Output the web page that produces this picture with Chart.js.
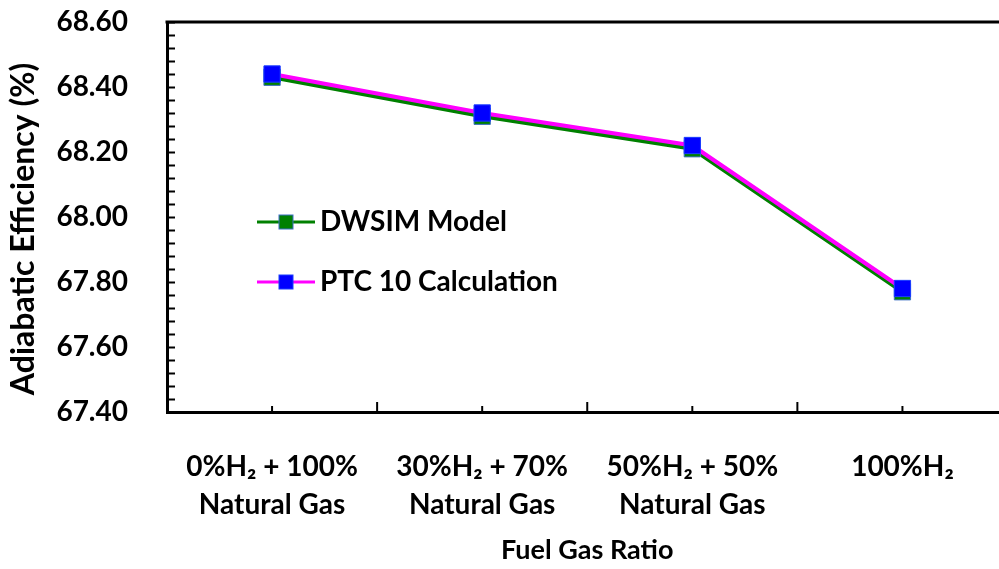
<!DOCTYPE html>
<html>
<head>
<meta charset="utf-8">
<script src="https://cdn.jsdelivr.net/npm/chart.js@4.4.0/dist/chart.umd.min.js"></script>
<style>
  html, body { margin: 0; padding: 0; background: #fff; overflow: hidden; }
  #wrap { width: 999px; height: 569px; overflow: hidden; }
  #chart { display: block; }
</style>
</head>
<body>
<div id="wrap"><canvas id="chart" width="1020" height="569"></canvas></div>
<script>
// Data
const categories = [
  ['0%H\u2082 + 100%', 'Natural Gas'],
  ['30%H\u2082 + 70%', 'Natural Gas'],
  ['50%H\u2082 + 50%', 'Natural Gas'],
  '100%H\u2082'
];
const dwsimValues = [68.43, 68.31, 68.21, 67.77];
const ptcValues = [68.44, 68.32, 68.22, 67.78];
const yMin = 67.40;
const yMax = 68.60;
const yStep = 0.20;
const yMinorStep = 0.04;
const yTitle = 'Adiabatic Efficiency (%)';

const FONT = 'Lato, "Open Sans", sans-serif';

// inward tick marks, top frame line, y title and the in-plot legend
const decorPlugin = {
  id: 'decor',
  afterDraw(chart) {
    const ctx = chart.ctx;
    const area = chart.chartArea;
    const x = chart.scales.x;
    const y = chart.scales.y;
    ctx.save();
    ctx.strokeStyle = '#000';
    ctx.lineWidth = 2;

    // y minor ticks
    const n = Math.round((yMax - yMin) / yMinorStep);
    for (let i = 0; i <= n; i++) {
      const py = Math.round(y.getPixelForValue(yMin + i * yMinorStep)) + 0.5;
      ctx.beginPath();
      ctx.moveTo(area.left, py);
      ctx.lineTo(area.left + 8, py);
      ctx.stroke();
    }

    // x ticks: long at category boundaries, short at centers
    for (let i = 0; i < categories.length; i++) {
      const pc = x.getPixelForValue(i);
      ctx.beginPath();
      ctx.moveTo(pc, area.bottom);
      ctx.lineTo(pc, area.bottom - 6);
      ctx.stroke();
      if (i < categories.length - 1) {
        const pb = (pc + x.getPixelForValue(i + 1)) / 2;
        ctx.beginPath();
        ctx.moveTo(pb, area.bottom);
        ctx.lineTo(pb, area.bottom - 10);
        ctx.stroke();
      }
    }

    // top frame
    ctx.lineWidth = 3;
    ctx.beginPath();
    ctx.moveTo(area.left - 1.5, area.top);
    ctx.lineTo(area.right, area.top);
    ctx.stroke();

    // y axis title (sits a little below the plot centre in the original)
    ctx.save();
    ctx.translate(24, (area.top + area.bottom) / 2 + 12);
    ctx.rotate(-Math.PI / 2);
    ctx.fillStyle = '#000';
    ctx.font = 'bold 32px ' + FONT;
    ctx.textAlign = 'center';
    ctx.textBaseline = 'middle';
    ctx.fillText(yTitle, 0, 0);
    ctx.restore();

    // legend
    const items = chart.data.datasets.slice().sort((a, b) => a.legendRank - b.legendRank);
    const lx = 257, lw = 58, ly0 = 222, lgap = 60;
    items.forEach((ds, i) => {
      const cy = ly0 + i * lgap;
      ctx.strokeStyle = ds.borderColor;
      ctx.lineWidth = 3;
      ctx.beginPath();
      ctx.moveTo(lx, cy);
      ctx.lineTo(lx + lw, cy);
      ctx.stroke();
      ctx.fillStyle = ds.pointBackgroundColor;
      ctx.strokeStyle = ds.pointBorderColor;
      ctx.lineWidth = 1;
      ctx.fillRect(lx + lw / 2 - 7, cy - 7, 14, 14);
      ctx.strokeRect(lx + lw / 2 - 7, cy - 7, 14, 14);
      ctx.fillStyle = '#000';
      ctx.font = 'bold 28px ' + FONT;
      ctx.textAlign = 'left';
      ctx.textBaseline = 'middle';
      ctx.fillText(ds.label, lx + lw + 5, cy);
    });
    ctx.restore();
  }
};

new Chart(document.getElementById('chart'), {
  type: 'line',
  data: {
    labels: categories,
    datasets: [
      {
        label: 'PTC 10 Calculation',
        legendRank: 2,
        data: ptcValues,
        borderColor: '#ff00ff',
        borderWidth: 4,
        pointStyle: 'rect',
        pointRadius: 11.5,
        pointBackgroundColor: '#0000ff',
        pointBorderColor: '#1a3cff',
        pointBorderWidth: 1,
        order: 1
      },
      {
        label: 'DWSIM Model',
        legendRank: 1,
        data: dwsimValues,
        borderColor: '#008000',
        borderWidth: 4,
        pointStyle: 'rect',
        pointRadius: 11.5,
        pointBackgroundColor: '#008000',
        pointBorderColor: '#3d6fc4',
        pointBorderWidth: 1,
        order: 2
      }
    ]
  },
  plugins: [decorPlugin],
  options: {
    responsive: false,
    animation: false,
    layout: { padding: { left: 0, top: 22, right: 10, bottom: 0 } },
    plugins: {
      legend: { display: false },
      tooltip: { enabled: false }
    },
    scales: {
      x: {
        type: 'category',
        offset: true,
        grid: { display: false, drawTicks: false },
        border: { display: true, color: '#000', width: 3 },
        ticks: {
          color: '#000',
          font: { family: FONT, size: 28, weight: 'bold', lineHeight: 1.36 },
          padding: 36,
          maxRotation: 0,
          autoSkip: false
        },
        title: {
          display: true,
          text: 'Fuel Gas Ratio',
          color: '#000',
          font: { family: FONT, size: 27, weight: 'bold' },
          padding: { top: 0, bottom: 3 }
        },
        afterFit(s) {
          s.height = 157;
          s.paddingLeft = 0;
          s.paddingRight = 0;
        }
      },
      y: {
        min: yMin,
        max: yMax,
        grid: { display: false, drawTicks: false },
        border: { display: true, color: '#000', width: 3 },
        ticks: {
          stepSize: yStep,
          color: '#000',
          font: { family: FONT, size: 28, weight: 'bold' },
          padding: 39,
          callback: v => Number(v).toFixed(2)
        },
        title: { display: false },
        afterFit(s) {
          s.width = 167;
          s.paddingTop = 0;
          s.paddingBottom = 0;
        }
      }
    }
  }
});
</script>
</body>
</html>
